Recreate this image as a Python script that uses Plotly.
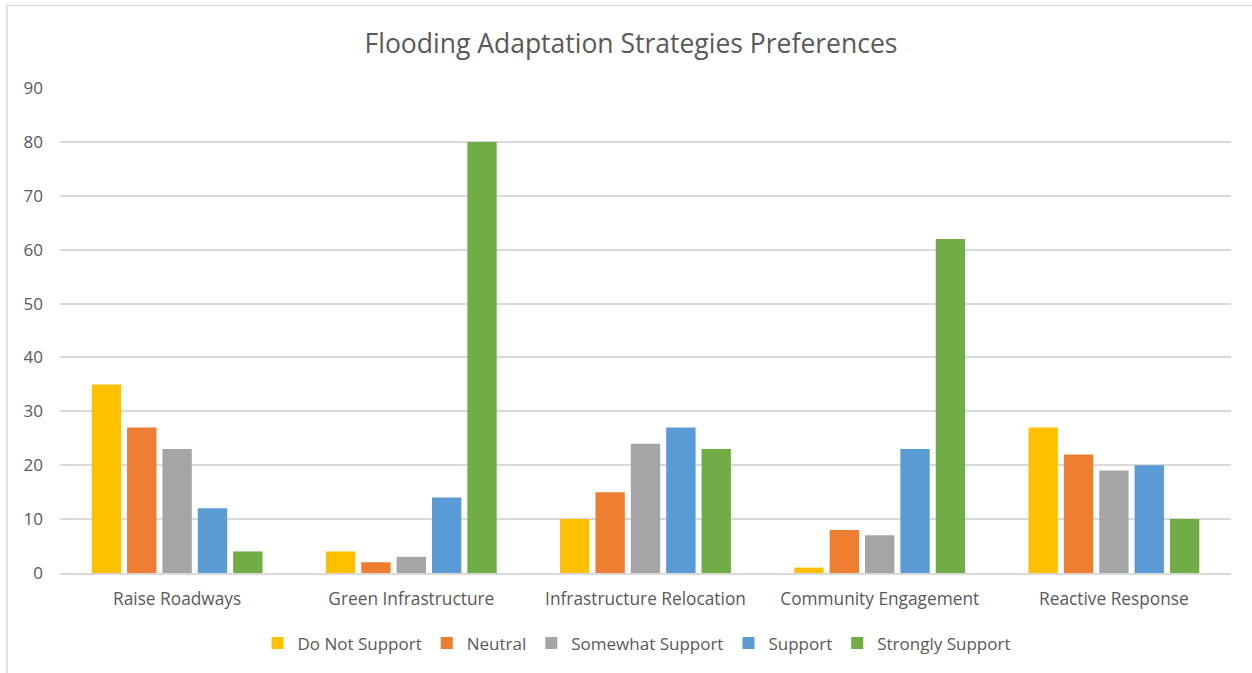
import plotly.graph_objects as go

categories = ["Raise Roadways", "Green Infrastructure", "Infrastructure Relocation",
              "Community Engagement", "Reactive Response"]
series_names = ["Do Not Support", "Neutral", "Somewhat Support", "Support", "Strongly Support"]
do_not_support = [35, 4, 10, 1, 27]
neutral = [27, 2, 15, 8, 22]
somewhat_support = [23, 3, 24, 7, 19]
support = [12, 14, 27, 23, 20]
strongly_support = [4, 80, 23, 62, 10]
colors = ["#FFC000", "#ED7D31", "#A5A5A5", "#5B9BD5", "#70AD47"]
y_ticks = [0, 10, 20, 30, 40, 50, 60, 70, 80, 90]

values = [do_not_support, neutral, somewhat_support, support, strongly_support]

FONT = "Open Sans"
TXT = "#595959"

fig = go.Figure()
for name, vals, col in zip(series_names, values, colors):
    fig.add_trace(go.Bar(x=categories, y=vals, name=name,
                         marker=dict(color=col, line=dict(width=0))))

fig.update_layout(
    width=1252, height=673,
    margin=dict(l=60, r=21, t=88, b=100, autoexpand=False),
    paper_bgcolor="white", plot_bgcolor="white",
    barmode="group", bargap=0.245, bargroupgap=0.17,
    title=dict(text="Flooding Adaptation Strategies Preferences",
               x=631 / 1252, xanchor="center", y=1 - 44 / 673, yanchor="middle",
               xref="container", yref="container",
               font=dict(family=FONT, size=26.5, color=TXT)),
    font=dict(family=FONT, size=17, color=TXT),
    legend=dict(orientation="h", x=(636 - 60) / 1170, xanchor="center", y=-0.145,
                yanchor="middle",
                font=dict(family=FONT, size=17, color=TXT),
                traceorder="normal", itemwidth=30),
    xaxis=dict(showgrid=False, showline=True, linecolor="#d9d9d9", linewidth=1.5,
               ticks="", tickfont=dict(family=FONT, size=17.3, color=TXT),
               ticklabelstandoff=9, automargin=False),
    yaxis=dict(range=[0, 90], tickvals=y_ticks, showgrid=True, gridcolor="#d9d9d9",
               gridwidth=1.5, zeroline=False, showline=False, ticks="",
               tickfont=dict(family=FONT, size=17, color=TXT), ticklabelstandoff=16,
               automargin=False),
    shapes=[dict(type="rect", xref="paper", yref="paper",
                 x0=(7 - 60) / 1170, x1=1.2, y0=-0.4, y1=(573 - 5.5) / 485,
                 line=dict(color="#d9d9d9", width=1.5), fillcolor="rgba(0,0,0,0)",
                 layer="below")],
)

fig.write_html("out.html", config={"displayModeBar": False},
               post_script="document.body.style.margin='0';document.body.style.overflow='hidden';")
